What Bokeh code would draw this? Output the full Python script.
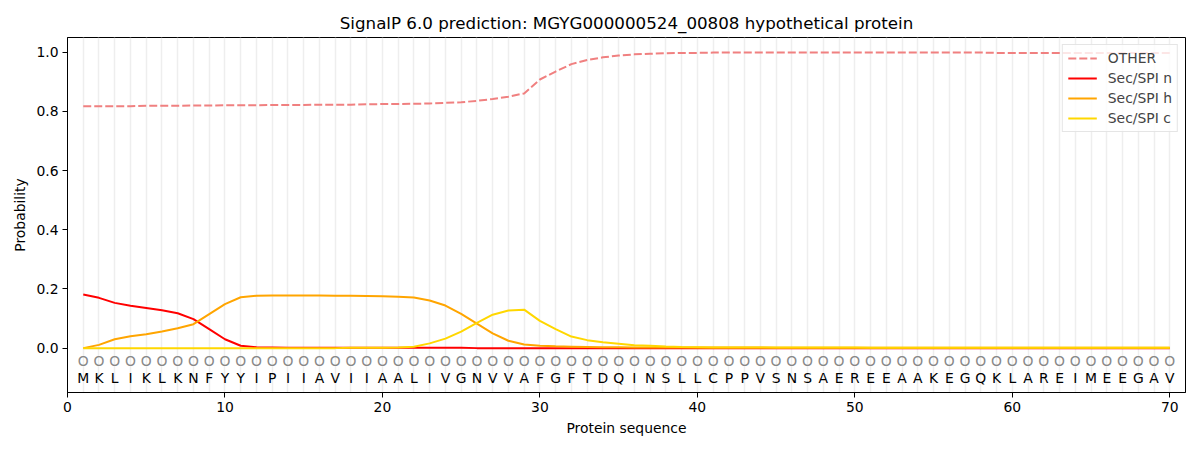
from bokeh.plotting import figure
from bokeh.models import ColumnDataSource, Range1d, FixedTicker, Legend, LegendItem, PrintfTickFormatter
from bokeh.core.properties import value
from bokeh.embed import file_html
from bokeh.resources import INLINE

sequence = list("MKLIKLKNFYYIPIIAVIIAALIVGNVVAFGFTDQINSLLCPPVSNSAEREEAAKEGQKLAREIMEEGAV")
positions = list(range(1, len(sequence) + 1))

other = [0.818, 0.818, 0.818, 0.818, 0.819, 0.819, 0.819, 0.820, 0.820, 0.821,
         0.821, 0.821, 0.822, 0.822, 0.822, 0.823, 0.823, 0.823, 0.824, 0.825,
         0.825, 0.826, 0.827, 0.829, 0.831, 0.836, 0.842, 0.850, 0.861, 0.908,
         0.935, 0.960, 0.974, 0.983, 0.989, 0.993, 0.995, 0.997, 0.998, 0.998,
         0.999, 0.999, 0.999, 0.999, 0.999, 0.999, 0.999, 0.999, 0.999, 0.999,
         0.999, 0.999, 0.999, 0.999, 0.999, 0.999, 0.999, 0.999, 0.998, 0.998,
         0.998, 0.998, 0.998, 0.998, 0.998, 0.998, 0.998, 0.998, 0.998, 0.998]
sec_n = [0.181, 0.170, 0.153, 0.143, 0.136, 0.128, 0.118, 0.098, 0.064, 0.030,
         0.008, 0.003, 0.002, 0.001, 0.001, 0.001, 0.001, 0.001, 0.001, 0.001,
         0.001, 0.001, 0.001, 0.001, 0.001, 0.000, 0.000, 0.000, 0.000, 0.000,
         0.000, 0.000, 0.000, 0.000, 0.000, 0.000, 0.000, 0.000, 0.000, 0.000,
         0.000, 0.000, 0.000, 0.000, 0.000, 0.000, 0.000, 0.000, 0.000, 0.000,
         0.000, 0.000, 0.000, 0.000, 0.000, 0.000, 0.000, 0.000, 0.000, 0.000,
         0.000, 0.000, 0.000, 0.000, 0.000, 0.000, 0.000, 0.000, 0.000, 0.000]
sec_h = [0.000, 0.011, 0.030, 0.040, 0.047, 0.056, 0.067, 0.081, 0.115, 0.149,
         0.172, 0.177, 0.178, 0.178, 0.178, 0.178, 0.177, 0.177, 0.176, 0.175,
         0.174, 0.171, 0.161, 0.144, 0.116, 0.083, 0.050, 0.025, 0.012, 0.008,
         0.006, 0.005, 0.004, 0.003, 0.003, 0.002, 0.002, 0.002, 0.002, 0.002,
         0.002, 0.002, 0.002, 0.002, 0.001, 0.001, 0.001, 0.001, 0.001, 0.001,
         0.001, 0.001, 0.001, 0.001, 0.001, 0.001, 0.001, 0.001, 0.001, 0.001,
         0.001, 0.001, 0.001, 0.001, 0.001, 0.001, 0.001, 0.001, 0.001, 0.001]
sec_c = [0.000, 0.000, 0.000, 0.000, 0.000, 0.000, 0.000, 0.000, 0.000, 0.000,
         0.000, 0.000, 0.000, 0.000, 0.000, 0.000, 0.000, 0.001, 0.001, 0.001,
         0.002, 0.005, 0.016, 0.032, 0.056, 0.085, 0.113, 0.127, 0.130, 0.092,
         0.064, 0.039, 0.027, 0.020, 0.015, 0.010, 0.008, 0.0055, 0.004, 0.003,
         0.002, 0.002, 0.002, 0.002, 0.002, 0.002, 0.002, 0.002, 0.002, 0.002,
         0.001, 0.001, 0.001, 0.001, 0.001, 0.001, 0.001, 0.001, 0.001, 0.001,
         0.001, 0.001, 0.001, 0.001, 0.001, 0.001, 0.001, 0.001, 0.001, 0.001]

x_ticks = [0, 10, 20, 30, 40, 50, 60, 70]
y_ticks = [0.0, 0.2, 0.4, 0.6, 0.8, 1.0]

FONT = "DejaVu Sans"

src = ColumnDataSource(dict(pos=positions, other=other, n=sec_n, h=sec_h, c=sec_c,
                            aa=sequence, o=["O"] * len(sequence),
                            yo=[-0.045] * len(sequence), ya=[-0.1] * len(sequence)))

p = figure(width=1195, height=448, output_backend="svg", toolbar_location=None,
           x_range=Range1d(0, 71), y_range=Range1d(-0.15, 1.05),
           min_border_left=67, min_border_right=10, min_border_top=37, min_border_bottom=56,
           title="SignalP 6.0 prediction: MGYG000000524_00808 hypothetical protein")

p.title.text_font = FONT
p.title.text_font_size = "16.7px"
p.title.text_font_style = "normal"
p.title.text_color = "black"
p.title.align = "center"

p.outline_line_color = "black"
p.outline_line_width = 1

p.ygrid.grid_line_color = None
p.xgrid.ticker = FixedTicker(ticks=positions)
p.xgrid.grid_line_color = "#eeeeee"
p.xgrid.grid_line_width = 1.5

for ax in (p.xaxis[0], p.yaxis[0]):
    ax.axis_line_color = "black"
    ax.major_tick_out = 5
    ax.major_tick_in = 0
    ax.minor_tick_line_color = None
    ax.major_label_text_font = FONT
    ax.major_label_text_font_size = "13.9px"
    ax.major_label_text_color = "black"
    ax.axis_label_text_font = FONT
    ax.axis_label_text_font_size = "13.9px"
    ax.axis_label_text_font_style = "normal"
    ax.axis_label_text_color = "black"
    ax.major_label_standoff = 4

p.xaxis.ticker = FixedTicker(ticks=x_ticks)
p.yaxis.ticker = FixedTicker(ticks=y_ticks)
p.yaxis.formatter = PrintfTickFormatter(format="%.1f")
p.xaxis.axis_label = "Protein sequence"
p.yaxis.axis_label = "Probability"

r_other = p.line("pos", "other", source=src, line_color="#f08080", line_width=2, line_dash="8 3")
r_n = p.line("pos", "n", source=src, line_color="red", line_width=2)
r_h = p.line("pos", "h", source=src, line_color="orange", line_width=2)
r_c = p.line("pos", "c", source=src, line_color="gold", line_width=2)

p.text("pos", "yo", text="o", source=src, text_align="center", text_baseline="middle",
       text_font=value(FONT), text_font_size=value("13.9px"), text_color="#888888")
p.text("pos", "ya", text="aa", source=src, text_align="center", text_baseline="middle",
       text_font=value(FONT), text_font_size=value("13.9px"), text_color="black")

legend = Legend(items=[LegendItem(label="OTHER", renderers=[r_other]),
                       LegendItem(label="Sec/SPI n", renderers=[r_n]),
                       LegendItem(label="Sec/SPI h", renderers=[r_h]),
                       LegendItem(label="Sec/SPI c", renderers=[r_c])],
                location="top_right", margin=7, padding=5, spacing=4,
                glyph_width=29, glyph_height=14, label_height=14, label_standoff=11,
                label_text_font=FONT, label_text_font_size="13.9px",
                border_line_color="#cccccc", border_line_width=1,
                background_fill_alpha=0.8)
p.add_layout(legend)

open("out.html", "w").write(file_html(p, INLINE))
